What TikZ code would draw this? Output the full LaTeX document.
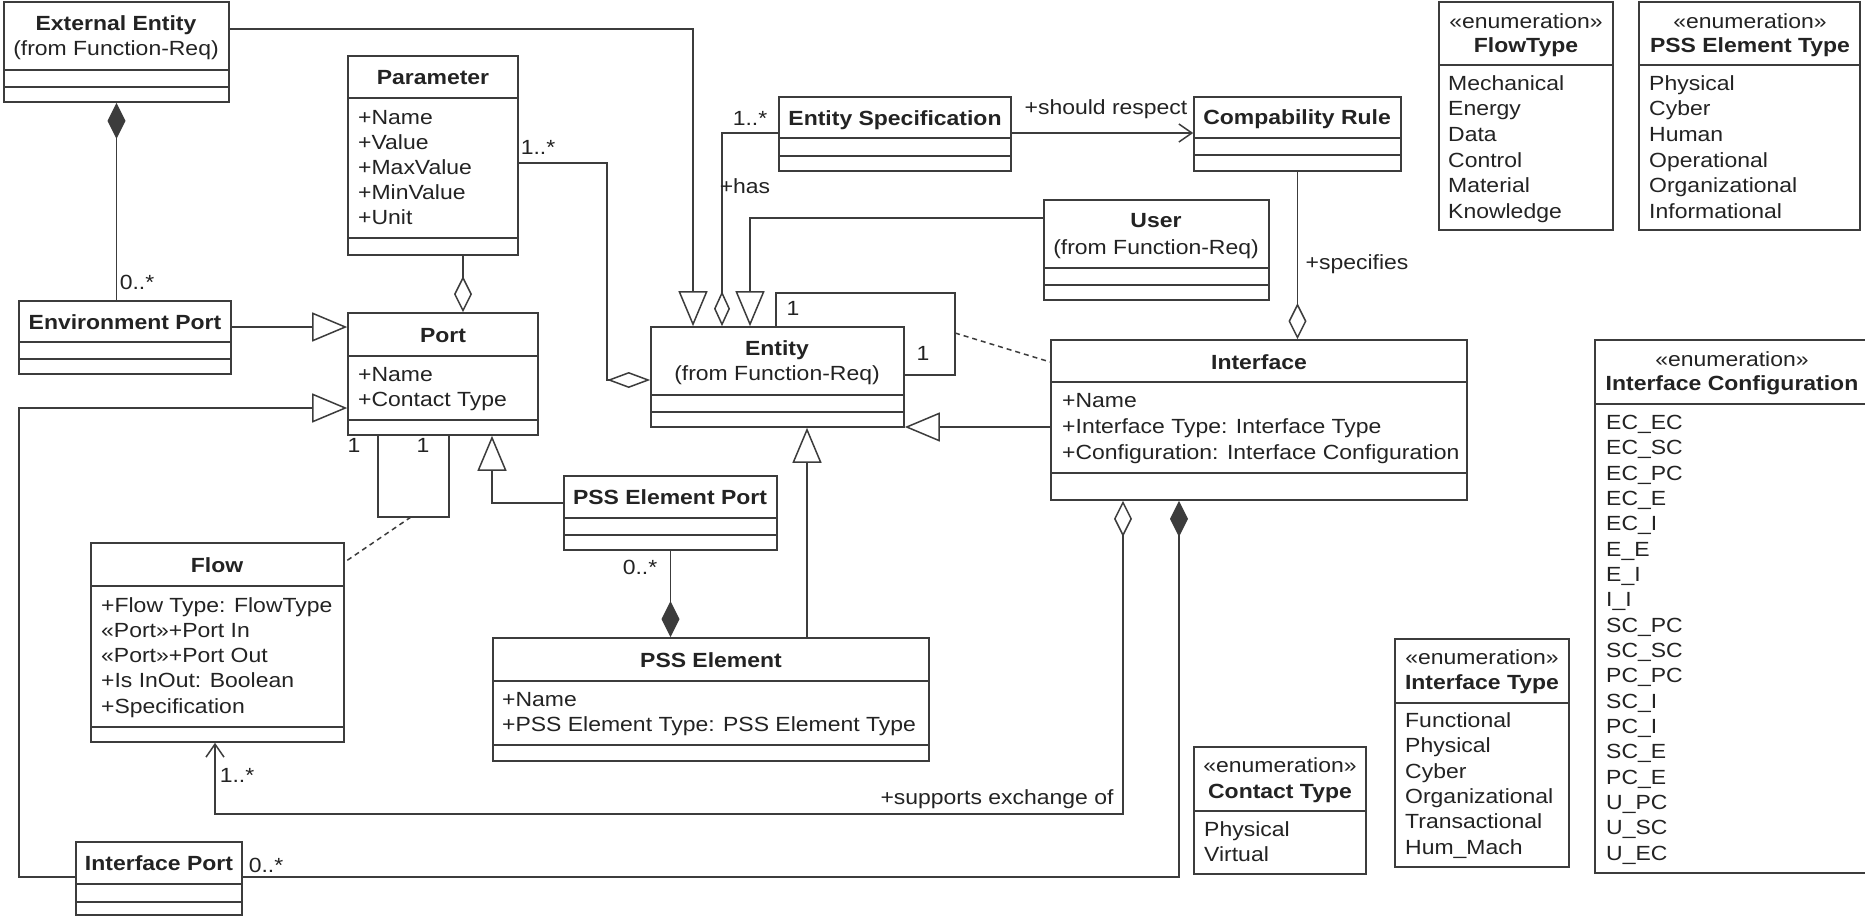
\documentclass[tikz,border=0pt]{standalone}
\usepackage{fontspec}
\setmainfont{Liberation Sans}[FakeStretch=1.12]
\usetikzlibrary{arrows.meta, calc, fit}
\definecolor{umlline}{RGB}{60, 60, 60}
\definecolor{umltext}{RGB}{35, 35, 35}
\tikzset{
  classbox/.style={draw=umlline, line width=1.6pt, fill=white, inner sep=0pt},
  sepline/.style={draw=umlline, line width=1.6pt},
  conn/.style={draw=umlline, line width=1.5pt},
  gen/.style={conn, -{Triangle[open, length=35pt, width=29pt]}},
  aggr/.style={conn, -{Diamond[open, length=36pt, width=18pt]}},
  aggrtop/.style={conn, -{Diamond[open, length=35pt, width=16pt]}},
  aggrside/.style={conn, -{Diamond[open, length=43pt, width=16pt]}},
  comp/.style={conn, -{Diamond[length=36pt, width=18pt]}},
  nav/.style={conn, -{Straight Barb[length=13pt, width=18pt]}},
  txt/.style={font=\fontsize{20.5}{25}\selectfont, text=umltext, inner sep=0pt,
    text height=14.7pt, text depth=0pt},
  title/.style={txt, font=\bfseries\fontsize{20.5}{25}\selectfont},
  attr/.style={txt, anchor=west},
  assocdash/.style={conn, dash pattern=on 5pt off 4pt}
}

\begin{document}
\begin{tikzpicture}[x=1pt, y=-1pt]
  \useasboundingbox (0,0) rectangle (1865,918);
  \fill[white] (0,0) rectangle (1865,918);

  % External Entity
  \node[classbox, fit={(4,2) (229,102)}] (ext) {};
  \draw[sepline] (4,70) -- (229,70) (4,87) -- (229,87);
  \node[title] (extT) at (116,23) {External Entity};
  \node[txt] (extS) at (116,48) {(from Function-Req)};

  % Parameter
  \node[classbox, fit={(348,56) (518,255)}] (param) {};
  \draw[sepline] (348,98) -- (518,98) (348,238) -- (518,238);
  \node[title] (paramT) at (433,77) {Parameter};
  \foreach \a [count=\i from 0] in {+Name,+Value,+MaxValue,+MinValue,+Unit}
    \node[attr] (param\i) at (358,117+25*\i) {\a};

  % Environment Port
  \node[classbox, fit={(19,301) (231,374)}] (envport) {};
  \draw[sepline] (19,342) -- (231,342) (19,359) -- (231,359);
  \node[title] (envportT) at (125,322) {Environment Port};

  % Port
  \node[classbox, fit={(348,313) (538,435)}] (port) {};
  \draw[sepline] (348,356) -- (538,356) (348,420) -- (538,420);
  \node[title] (portT) at (443,335) {Port};
  \foreach \a [count=\i from 0] in {+Name,+Contact Type}
    \node[attr] (port\i) at (358,374+25*\i) {\a};

  % Flow
  \node[classbox, fit={(91,543) (344,742)}] (flow) {};
  \draw[sepline] (91,586) -- (344,586) (91,727) -- (344,727);
  \node[title] (flowT) at (217,565) {Flow};
  \foreach \a [count=\i from 0] in {+Flow Type: FlowType,«Port»+Port In,«Port»+Port Out,+Is InOut: Boolean,+Specification}
    \node[attr] (flow\i) at (101,605+25.2*\i) {\a};

  % Interface Port
  \node[classbox, fit={(76,842) (242,915)}] (ifport) {};
  \draw[sepline] (76,884) -- (242,884) (76,902) -- (242,902);
  \node[title] (ifportT) at (159,863) {Interface Port};

  % Entity
  \node[classbox, fit={(651,327) (904,427)}] (entity) {};
  \draw[sepline] (651,395) -- (904,395) (651,412) -- (904,412);
  \node[title] (entityT) at (777,348) {Entity};
  \node[txt] (entityS) at (777,373) {(from Function-Req)};

  % PSS Element Port
  \node[classbox, fit={(564,476) (777,550)}] (pssport) {};
  \draw[sepline] (564,518) -- (777,518) (564,535) -- (777,535);
  \node[title] (pssportT) at (670,497) {PSS Element Port};

  % PSS Element
  \node[classbox, fit={(493,638) (929,761)}] (psselem) {};
  \draw[sepline] (493,681) -- (929,681) (493,745) -- (929,745);
  \node[title] (psselemT) at (711,660) {PSS Element};
  \foreach \a [count=\i from 0] in {+Name,+PSS Element Type: PSS Element Type}
    \node[attr] (psselem\i) at (502,699+25*\i) {\a};

  % Entity Specification / Compability Rule
  \node[classbox, fit={(779,97) (1011,171)}] (espec) {};
  \draw[sepline] (779,138) -- (1011,138) (779,156) -- (1011,156);
  \node[title] (especT) at (895,118) {Entity Specification};
  \node[classbox, fit={(1194,97) (1401,171)}] (crule) {};
  \draw[sepline] (1194,138) -- (1401,138) (1194,155) -- (1401,155);
  \node[title] (cruleT) at (1297,117) {Compability Rule};

  % User
  \node[classbox, fit={(1044,200) (1269,300)}] (user) {};
  \draw[sepline] (1044,268) -- (1269,268) (1044,285) -- (1269,285);
  \node[title] (userT) at (1156,220) {User};
  \node[txt] (userS) at (1156,247) {(from Function-Req)};

  % Interface
  \node[classbox, fit={(1051,340) (1467,500)}] (iface) {};
  \draw[sepline] (1051,382) -- (1467,382) (1051,473) -- (1467,473);
  \node[title] (ifaceT) at (1259,362) {Interface};
  \foreach \a [count=\i from 0] in {+Name,+Interface Type: Interface Type,+Configuration: Interface Configuration}
    \node[attr] (iface\i) at (1062,400+26*\i) {\a};

  % enumerations
  \node[classbox, fit={(1439,2) (1613,230)}] (flowtype) {};
  \draw[sepline] (1439,65) -- (1613,65);
  \node[txt] (flowtypeS) at (1526,21) {«enumeration»};
  \node[title] (flowtypeT) at (1526,45) {FlowType};
  \foreach \v [count=\i from 0] in {Mechanical,Energy,Data,Control,Material,Knowledge}
    \node[attr] (flowtype\i) at (1448,83+25.6*\i) {\v};

  \node[classbox, fit={(1639,2) (1860,230)}] (psstype) {};
  \draw[sepline] (1639,65) -- (1860,65);
  \node[txt] (psstypeS) at (1750,21) {«enumeration»};
  \node[title] (psstypeT) at (1750,45) {PSS Element Type};
  \foreach \v [count=\i from 0] in {Physical,Cyber,Human,Operational,Organizational,Informational}
    \node[attr] (psstype\i) at (1649,83+25.6*\i) {\v};

  \node[classbox, fit={(1595,340) (1870,873)}] (ifconf) {};
  \draw[sepline] (1595,404) -- (1870,404);
  \node[txt] (ifconfS) at (1732,359) {«enumeration»};
  \node[title] (ifconfT) at (1732,383) {Interface Configuration};
  \foreach \v [count=\i from 0] in {EC\_EC,EC\_SC,EC\_PC,EC\_E,EC\_I,E\_E,E\_I,I\_I,SC\_PC,SC\_SC,PC\_PC,SC\_I,PC\_I,SC\_E,PC\_E,U\_PC,U\_SC,U\_EC}
    \node[attr] (ifconf\i) at (1606,422+25.35*\i) {\v};

  \node[classbox, fit={(1194,747) (1366,874)}] (contact) {};
  \draw[sepline] (1194,811) -- (1366,811);
  \node[txt] (contactS) at (1280,765) {«enumeration»};
  \node[title] (contactT) at (1280,791) {Contact Type};
  \foreach \v [count=\i from 0] in {Physical,Virtual}
    \node[attr] (contact\i) at (1204,829+25*\i) {\v};

  \node[classbox, fit={(1395,639) (1569,867)}] (itype) {};
  \draw[sepline] (1395,703) -- (1569,703);
  \node[txt] (itypeS) at (1482,657) {«enumeration»};
  \node[title] (itypeT) at (1482,682) {Interface Type};
  \foreach \v [count=\i from 0] in {Functional,Physical,Cyber,Organizational,Transactional,Hum\_Mach}
    \node[attr] (itype\i) at (1405,720+25.4*\i) {\v};

  % connectors into Entity
  \draw[gen] (ext.east |- 0,29) -| (entity.north -| 693,0);
  \draw[aggrtop] (espec.west |- 0,133) -| (entity.north -| 722,0);
  \draw[gen] (user.west |- 0,218) -| (entity.north -| 750,0);
  \draw[aggrside] (param.east |- 0,163) -| (607,380) -- (entity.west |- 0,380);
  \draw[gen] (psselem.north -| 807,0) -- (entity.south -| 807,0);
  \draw[gen] (iface.west |- 0,427) -- (entity.east |- 0,427);
  \draw[conn] (entity.north -| 776,0) |- (955,293) |- (entity.east |- 0,375);
  \coordinate (entloop) at (955,333);
  \draw[assocdash] (entloop) -- (iface.west |- 0,362);

  % connectors into Port
  \draw[comp] (ext.south |- envport.north) -- (ext.south);
  \draw[aggr] (param.south -| 463,0) -- (port.north -| 463,0);
  \draw[gen] (envport.east |- 0,327) -- (port.west |- 0,327);
  \draw[gen] (ifport.west |- 0,877) -| (19,408) -- (port.west |- 0,408);
  \draw[gen] (pssport.west |- 0,503) -| (port.south -| 492,0);
  \draw[conn] (port.south -| 378,0) |- (449,517) -- (port.south -| 449,0);
  \coordinate (portloop) at (411,517);
  \draw[assocdash] (portloop) -- (flow.east |- 0,562);
  \draw[comp] (pssport.south) -- (pssport.south |- psselem.north);

  % rule, interface, flow
  \draw[nav] (espec.east |- 0,133) -- (crule.west |- 0,133);
  \draw[aggr] (crule.south) -- (crule.south |- iface.north);
  \draw[conn, {Straight Barb[length=13pt, width=18pt]}-{Diamond[open, length=36pt, width=18pt]}]
    (flow.south -| 215,0) |- (1123,814) -- (iface.south -| 1123,0);
  \draw[comp] (ifport.east |- 0,877) -| (iface.south -| 1179,0);

  % role names and multiplicities
  \node[txt] (m1) at (137,282) {0..*};
  \node[txt] (m2) at (538,147) {1..*};
  \node[txt] (m3) at (354,445) {1};
  \node[txt] (m4) at (423,445) {1};
  \node[txt] (m5) at (750,118) {1..*};
  \node[txt] (r1) at (745,186) {+has};
  \node[txt] (m6) at (793,308) {1};
  \node[txt] (m7) at (923,353) {1};
  \node[txt] (r2) at (1106,107) {+should respect};
  \node[txt] (r3) at (1357,262) {+specifies};
  \node[txt] (m8) at (640,567) {0..*};
  \node[txt] (m9) at (237,775) {1..*};
  \node[txt] (r4) at (997,797) {+supports exchange of};
  \node[txt] (m10) at (266,865) {0..*};
\end{tikzpicture}
\end{document}
